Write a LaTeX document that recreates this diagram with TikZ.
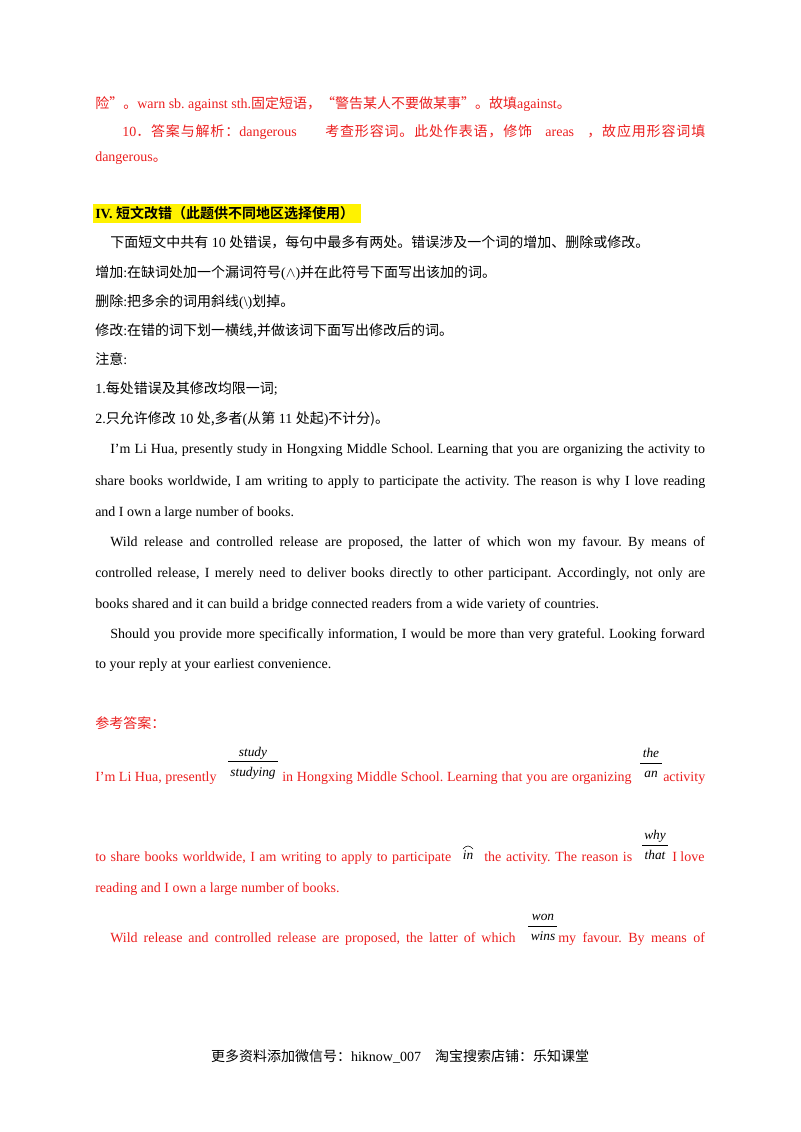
\documentclass[tikz,border=0pt]{standalone}
\usepackage{fontspec}
\setmainfont{Liberation Serif}
\newfontfamily\cjk{Noto Sans CJK SC}[BoldFont={Noto Sans CJK SC Bold}]
\newfontfamily\cjkwide{Noto Sans CJK SC}[LetterSpace=6]
\newcommand{\zh}[1]{{\cjk #1}}
\newcommand{\jl}[2]{\hbox to #1{#2}}
\definecolor{ansred}{RGB}{235,30,30}
\frenchspacing
\begin{document}
\begin{tikzpicture}[x=0.75pt,y=-0.75pt,
  txt/.style={anchor=base west,inner sep=0,font=\fontsize{10.5}{12}\selectfont\frenchspacing},
  red/.style={txt,text=ansred},
  mid/.style={anchor=base,inner sep=0,font=\fontsize{10}{12}\selectfont\itshape,text=black}]
\useasboundingbox (0,0) rectangle (800,1132);
\node[red] (l1) at (95,108) {\zh{险”。}warn sb. against sth.\zh{固定短语，“警告某人不要做某事”。故填}against\zh{。}};
\node[red] (l2) at (122,136) {10{\cjkwide ．答案与解析：}dangerous};
\node[red] (l2b) at (325,136) {\jl{285pt}{{\cjkwide 考查形容词。此处作表语，修饰}\hfil areas\hfil{\cjkwide ，故应用形容词填}}};
\node[red] (l3) at (95,161) {dangerous\zh{。}};
\fill[yellow] (93,204) rectangle (361,223);
\node[txt] (h) at (95,218) {\textbf{IV.} \zh{\bfseries 短文改错（此题供不同地区选择使用）}};
\node[txt] (p1) at (110,247) {\zh{下面短文中共有} 10 \zh{处错误，每句中最多有两处。错误涉及一个词的增加、删除或修改。}};
\node[txt] (p2) at (95,277) {\zh{增加}:\zh{在缺词处加一个漏词符号}(\(\wedge\))\zh{并在此符号下面写出该加的词。}};
\node[txt] (p3) at (95,306) {\zh{删除}:\zh{把多余的词用斜线}(\textbackslash)\zh{划掉。}};
\node[txt] (p4) at (95,335) {\zh{修改}:\zh{在错的词下划一横线}\zh{,并做该词下面写出修改后的词。}};
\node[txt] (p5) at (95,364) {\zh{注意}:};
\node[txt] (p6) at (95,393) {1.\zh{每处错误及其修改均限一词};};
\node[txt] (p7) at (95,423) {2.\zh{只允许修改} 10 \zh{处}\zh{,多者}(\zh{从第} 11 \zh{处起})\zh{不计分)。}};
\node[txt] (e1) at (110,453) {\jl{446pt}{I'm Li Hua, presently study in Hongxing Middle School. Learning that you are organizing the activity to}};
\node[txt] (e2) at (95,485) {\jl{457.5pt}{share books worldwide, I am writing to apply to participate the activity. The reason is why I love reading}};
\node[txt] (e3) at (95,516) {and I own a large number of books.};
\node[txt] (e4) at (110,546) {\jl{446pt}{Wild release and controlled release are proposed, the latter of which won my favour. By means of}};
\node[txt] (e5) at (95,577) {\jl{457.5pt}{controlled release, I merely need to deliver books directly to other participant. Accordingly, not only are}};
\node[txt] (e6) at (95,608) {books shared and it can build a bridge connected readers from a wide variety of countries.};
\node[txt] (e7) at (110,638) {\jl{446pt}{Should you provide more specifically information, I would be more than very grateful. Looking forward}};
\node[txt] (e8) at (95,668) {to your reply at your earliest convenience.};
\node[red] (ans) at (95,728) {\zh{参考答案：}};
\node[red] (a1) at (95,781) {I'm Li Hua, presently};
\node[mid] (s1) at (253,756) {study};
\draw (228,761) -- (278,761);
\node[mid] (s2) at (253,776) {studying};
\node[red] (a2) at (282,781) {\jl{262pt}{in Hongxing Middle School. Learning that you are organizing}};
\node[mid] (t1) at (651,757) {the};
\draw (640,763) -- (662,763);
\node[mid] (t2) at (651,777) {an};
\node[red] (a3) at (663,781) {activity};
\node[red] (b1) at (95,861) {\jl{267pt}{to share books worldwide, I am writing to apply to participate}};
\node[mid] (in) at (468,859) {in};
\draw (463,849) .. controls (466,845) and (470,845) .. (473,849);
\node[red] (b2) at (484,861) {\jl{111pt}{the activity. The reason is}};
\node[mid] (w1) at (655,839) {why};
\draw (642,845) -- (668,845);
\node[mid] (w2) at (655,859) {that};
\node[red] (b3) at (672,861) {I love};
\node[red] (b4) at (95,892) {reading and I own a large number of books.};
\node[red] (c1) at (110,942) {\jl{304pt}{Wild release and controlled release are proposed, the latter of which}};
\node[mid] (o1) at (543,920) {won};
\draw (528,926) -- (557,926);
\node[mid] (o2) at (543,940) {wins};
\node[red] (c2) at (558,942) {\jl{110pt}{my favour. By means of}};
\node[txt,anchor=base] (foot) at (400,1061) {\zh{更多资料添加微信号：}hiknow\_007\quad\zh{淘宝搜索店铺：乐知课堂}};
\end{tikzpicture}
\end{document}
